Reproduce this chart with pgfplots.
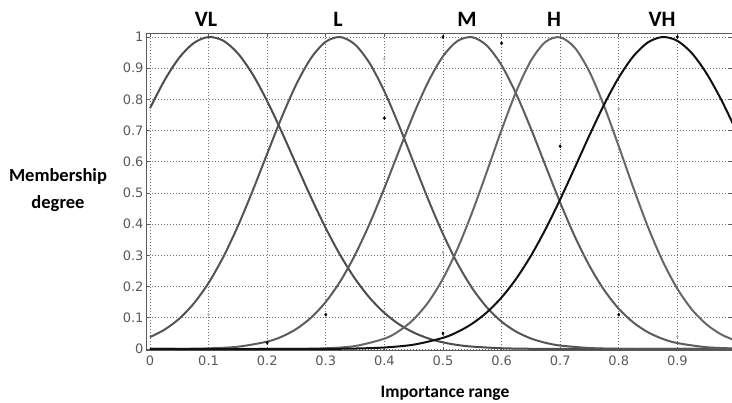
\documentclass[border=0pt]{standalone}
\usepackage{pgfplots}
\pgfplotsset{compat=1.18}
\usepackage{fontspec}
\setmainfont{Carlito}
\newfontfamily\tickfont{DejaVu Sans}
\definecolor{curveVL}{HTML}{4D4D4D}
\definecolor{curveL}{HTML}{555555}
\definecolor{curveM}{HTML}{5C5C5C}
\definecolor{curveH}{HTML}{676767}
\definecolor{curveVH}{HTML}{111111}
\definecolor{gridc}{HTML}{6E6E6E}
\definecolor{tickc}{HTML}{5A5A5A}

\begin{document}
\begin{tikzpicture}
\useasboundingbox (0,0) rectangle (732pt,403pt);
\begin{axis}[
    at={(146pt,52pt)}, anchor=south west,
    width=586pt, height=317pt, scale only axis,
    xmin=-0.0068, xmax=0.9932,
    ymin=-0.0064, ymax=1.0096,
    xtick={0,0.1,...,0.9},
    xticklabels={0,0.1,0.2,0.3,0.4,0.5,0.6,0.7,0.8,0.9},
    ytick={0,0.1,...,1.0},
    yticklabels={0,0.1,0.2,0.3,0.4,0.5,0.6,0.7,0.8,0.9,1},
    /pgf/number format/assume math mode=true,
    ticklabel style={font=\tickfont\fontsize{13}{13}\selectfont, text=tickc},
    yticklabel style={xshift=1pt},
    xticklabel style={yshift=-1pt},
    tick align=inside, major tick length=3pt,
    tick style={tickc, line width=0.6pt},
    grid=major,
    major grid style={gridc, line width=0.9pt, dash pattern=on 1pt off 2pt},
    axis line style={draw=tickc, line width=1pt},
    clip=true,
]
% VL
\addplot[curveVL, line width=2pt, smooth] coordinates {
(0,0.7715) (0.025,0.8618) (0.05,0.9336) (0.075,0.9810) (0.1,0.9998)
(0.125,0.9882) (0.15,0.9474) (0.175,0.8810) (0.2,0.7945) (0.225,0.6949)
(0.25,0.5896) (0.275,0.4851) (0.3,0.3872) (0.325,0.2997) (0.35,0.2250)
(0.375,0.1638) (0.4,0.1157) (0.425,0.0792) (0.45,0.0527) (0.475,0.0339)
(0.5,0.0212) (0.525,0.0128) (0.55,0.0076) (0.6,0.0024) (0.65,0.0007)
(0.7,0.0002) (0.8,0) (0.9,0) (1.0,0)};
% L
\addplot[curveL, line width=2pt, smooth] coordinates {
(0,0.0382) (0.025,0.0622) (0.05,0.0973) (0.075,0.1464) (0.1,0.2118)
(0.125,0.2945) (0.15,0.3939) (0.175,0.5063) (0.2,0.6258) (0.225,0.7436)
(0.25,0.8494) (0.275,0.9328) (0.3,0.9849) (0.325,0.9997) (0.35,0.9756)
(0.375,0.9153) (0.4,0.8256) (0.425,0.7160) (0.45,0.5969) (0.475,0.4784)
(0.5,0.3687) (0.525,0.2731) (0.55,0.1945) (0.575,0.1332) (0.6,0.0877)
(0.625,0.0555) (0.65,0.0338) (0.675,0.0198) (0.7,0.0111) (0.75,0.0031)
(0.8,0.0007) (0.85,0.0001) (0.9,0) (1.0,0)};
% M
\addplot[curveM, line width=2pt, smooth] coordinates {
(0,0.0001) (0.05,0.0004) (0.1,0.0020) (0.15,0.0073) (0.2,0.0236)
(0.225,0.0397) (0.25,0.0645) (0.275,0.1007) (0.3,0.1510) (0.325,0.2178)
(0.35,0.3019) (0.375,0.4024) (0.4,0.5157) (0.425,0.6354) (0.45,0.7526)
(0.475,0.8570) (0.5,0.9382) (0.525,0.9875) (0.55,0.9992) (0.575,0.9721)
(0.6,0.9091) (0.625,0.8174) (0.65,0.7067) (0.675,0.5873) (0.7,0.4692)
(0.725,0.3604) (0.75,0.2662) (0.775,0.1890) (0.8,0.1290) (0.825,0.0847)
(0.85,0.0534) (0.875,0.0324) (0.9,0.0189) (0.95,0.0057) (1.0,0.0015)};
% H
\addplot[curveH, line width=2pt, smooth] coordinates {
(0,0) (0.1,0) (0.2,0.0001) (0.25,0.0004) (0.3,0.0022) (0.35,0.0095)
(0.4,0.0331) (0.425,0.0576) (0.45,0.0953) (0.475,0.1503) (0.5,0.2256)
(0.525,0.3225) (0.55,0.4390) (0.575,0.5690) (0.6,0.7023) (0.625,0.8254)
(0.65,0.9238) (0.675,0.9845) (0.7,0.9990) (0.725,0.9654) (0.75,0.8883)
(0.775,0.7783) (0.8,0.6494) (0.825,0.5160) (0.85,0.3903) (0.875,0.2812)
(0.9,0.1929) (0.925,0.1260) (0.95,0.0784) (0.975,0.0464) (1.0,0.0262)};
% VH
\addplot[curveVH, line width=2pt, smooth] coordinates {
(0,0) (0.2,0) (0.3,0.0004) (0.35,0.0015) (0.4,0.0048) (0.45,0.0139)
(0.5,0.0357) (0.525,0.0547) (0.55,0.0814) (0.575,0.1177) (0.6,0.1653)
(0.625,0.2254) (0.65,0.2986) (0.675,0.3840) (0.7,0.4796) (0.725,0.5816)
(0.75,0.6850) (0.775,0.7835) (0.8,0.8702) (0.825,0.9385) (0.85,0.9830)
(0.875,0.9999) (0.9,0.9877) (0.925,0.9474) (0.95,0.8825) (0.975,0.7983)
(1.0,0.7012)};
% stray marks on the grid
\addplot[only marks, mark=diamond*, mark size=1.6pt, black] coordinates {
(0.2,0.02) (0.3,0.11) (0.4,0.74) (0.5,1.0) (0.6,0.98) (0.7,0.65)
(0.8,0.11) (0.9,1.0) (0.5,0.05)};
\addplot[only marks, mark=diamond*, mark size=1.4pt, gray!60] coordinates {
(0.1,0.11) (0.2,0.7) (0.4,0.93) (0.5,0.31) (0.8,0.77) (0.9,0.04)};
\end{axis}
\begin{scope}[font=\bfseries\fontsize{22}{22}\selectfont]
\node[anchor=base] at (206pt,376pt) {VL};
\node[anchor=base] at (338pt,376pt) {L};
\node[anchor=base] at (467pt,376pt) {M};
\node[anchor=base] at (554pt,376pt) {H};
\node[anchor=base] at (662pt,376pt) {VH};
\end{scope}
\node[align=center, font=\bfseries\fontsize{18.5}{27}\selectfont] at (58pt,213pt) {Membership\\degree};
\node[anchor=base, font=\bfseries\fontsize{17.5}{17.5}\selectfont] at (445pt,5pt) {Importance range};
\end{tikzpicture}
\end{document}
